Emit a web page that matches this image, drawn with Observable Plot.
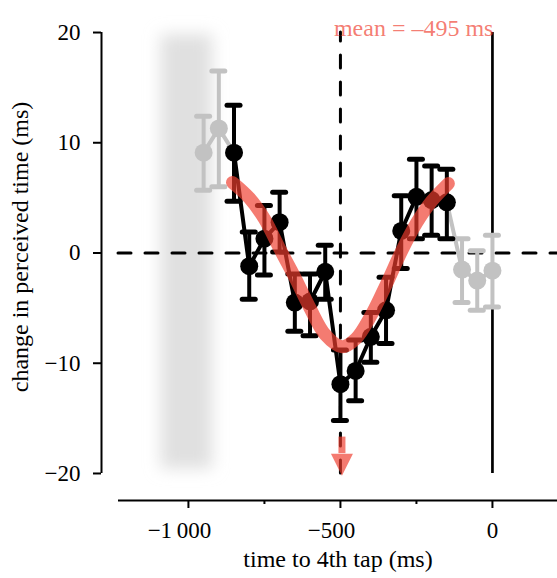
<!DOCTYPE html>
<html><head><meta charset="utf-8">
<script src="https://cdn.jsdelivr.net/npm/d3@7"></script>
<script src="https://cdn.jsdelivr.net/npm/@observablehq/plot@0.6"></script>
<style>body{margin:0;background:#fff} svg{display:block}</style>
</head><body><div id="chart"></div>
<script>
// ---- data ----
const times   = [-950, -900, -850, -800, -750, -700, -650, -600, -550, -500, -450, -400, -350, -300, -250, -200, -150, -100, -50, 0];
const change  = [9.1, 11.3, 9.1, -1.2, 1.3, 2.8, -4.5, -4.4, -1.7, -11.9, -10.7, -7.6, -5.2, 2.0, 5.1, 4.8, 4.6, -1.5, -2.5, -1.6];
const errLow  = [5.7, 6.0, 4.7, -4.2, -2.0, 0.1, -7.1, -7.5, -4.2, -15.2, -13.4, -9.9, -8.2, -1.4, 1.3, 1.6, 1.3, -4.5, -5.2, -4.9];
const errHigh = [12.4, 16.5, 13.4, 1.9, 4.3, 5.5, -1.9, -1.9, 0.7, -8.8, -7.9, -5.4, -2.2, 5.2, 8.5, 7.9, 7.6, 1.3, 0.2, 1.6];
const mainFirst = 2, mainLast = 16;   // indices of the black (fitted) series

const fitTimes  = [-855, -800, -750, -700, -650, -600, -550, -495, -450, -400, -350, -300, -250, -200, -145];
const fitChange = [6.4, 5.0, 3.1, 0.4, -2.2, -5.0, -7.4, -8.5, -7.8, -5.7, -2.9, 0.1, 2.7, 4.7, 6.3];

const meanTime = -495;
const refTime = -500;
const tapTime = 0;
const bandTimes = [-1090, -920];
const bandChange = [-19.6, 19.8];
const arrowChange = [-16.7, -18.2];

const xTicks = [-1000, -500, 0];
const xTickLabels = ["\u22121\u2009000", "\u2212500", "0"];
const xMinorTicks = [-750, -250];
const yTicks = [-20, -10, 0, 10, 20];
const yTickLabels = ["\u221220", "\u221210", "0", "10", "20"];
const xLabel = "time to 4th tap (ms)";
const yLabel = "change in perceived time (ms)";
const meanLabel = "mean = \u2013495 ms";

const xDomain = [-1230, 214];
const yDomain = [-21, 21];

// ---- build ----
const red = "rgb(239,60,45)", redOp = 0.68, grey = "#c2c2c2";
const data = times.map((t, i) => ({t, v: change[i], lo: errLow[i], hi: errHigh[i]}));
const main = data.slice(mainFirst, mainLast + 1);
const greyL = data.slice(0, mainFirst + 1);
const greyR = data.slice(mainLast);
const greyPts = [...data.slice(0, mainFirst), ...data.slice(mainLast + 1)];
const fit = fitTimes.map((t, i) => ({t, v: fitChange[i]}));
const triangle = {draw(ctx) { ctx.moveTo(-11, 0); ctx.lineTo(11, 0); ctx.lineTo(0, 22); ctx.closePath(); }};
const xNeg = xTicks.filter(d => d < 0), xNonNeg = xTicks.filter(d => d >= 0);
const xLab = d => xTickLabels[xTicks.indexOf(d)];

function series(pts, lines, color) {
  return [
    ...lines.map(l => Plot.line(l, {x: "t", y: "v", stroke: color, strokeWidth: 4})),
    Plot.ruleX(pts, {x: "t", y1: "lo", y2: "hi", stroke: color, strokeWidth: 4}),
    Plot.ruleY(pts, {y: "hi", x1: "t", x2: "t", insetLeft: -6.5, insetRight: -6.5, stroke: color, strokeWidth: 5, strokeLinecap: "round"}),
    Plot.ruleY(pts, {y: "lo", x1: "t", x2: "t", insetLeft: -6.5, insetRight: -6.5, stroke: color, strokeWidth: 5, strokeLinecap: "round"}),
    Plot.dot(pts, {x: "t", y: "v", r: 9, fill: color, stroke: "none"})
  ];
}

const font = "'Liberation Serif', 'Times New Roman', serif";
const chart = Plot.plot({
  width: 557, height: 578,
  marginLeft: 118, marginRight: 0, marginTop: 21, marginBottom: 94,
  style: {fontFamily: font, fontSize: "23px", color: "black", background: "white"},
  x: {domain: xDomain},
  y: {domain: yDomain},
  marks: [
    Plot.rect([0], {x1: [bandTimes[0]], x2: [bandTimes[1]], y1: [bandChange[0]], y2: [bandChange[1]], fill: "#e0e0e0", ariaLabel: "band"}),
    Plot.ruleY([0], {stroke: "black", strokeWidth: 3, strokeDasharray: "13,14", strokeLinecap: "round"}),
    Plot.ruleX([refTime], {y1: -20, y2: 20, stroke: "black", strokeWidth: 3, strokeDasharray: "13,14", strokeLinecap: "round"}),
    Plot.ruleX([tapTime], {y1: -20, y2: 20, stroke: "black", strokeWidth: 2.7}),
    ...series(greyPts, [greyL, greyR], grey),
    ...series(main, [main], "black"),
    Plot.line(fit, {x: "t", y: "v", curve: "catmull-rom", stroke: red, strokeOpacity: redOp, strokeWidth: 13, strokeLinecap: "round"}),
    Plot.ruleX([meanTime], {y1: [arrowChange[0]], y2: [arrowChange[1]], stroke: red, strokeOpacity: redOp, strokeWidth: 7}),
    Plot.dot([meanTime], {x: d => d, y: [arrowChange[1]], symbol: triangle, fill: red, fillOpacity: redOp, stroke: "none"}),
    Plot.text([meanLabel], {x: [tapTime], frameAnchor: "top", textAnchor: "end", dx: 1, dy: -3, fill: red, fillOpacity: redOp, fontSize: 24}),
    // axes
    Plot.ruleX([xDomain[0]], {y1: -20, y2: 20, dx: -17, stroke: "black", strokeWidth: 2}),
    Plot.axisY({ticks: yTicks, tickFormat: d => yTickLabels[yTicks.indexOf(d)], tickSize: 8, tickPadding: 13, dx: -17, label: null, strokeWidth: 2, fontSize: 23}),
    Plot.ruleY([yDomain[0]], {dy: 16, stroke: "black", strokeWidth: 2}),
    Plot.axisX({ticks: xTicks, tickFormat: () => "", tickSize: 8, dy: 16, label: null, strokeWidth: 2}),
    Plot.axisX({ticks: xMinorTicks, tickFormat: () => "", tickSize: 4, dy: 16, label: null, strokeWidth: 2}),
    Plot.text(xNeg, {x: d => d, text: xLab, frameAnchor: "bottom", lineAnchor: "top", dy: 37, dx: -9, fontSize: 23}),
    Plot.text(xNonNeg, {x: d => d, text: xLab, frameAnchor: "bottom", lineAnchor: "top", dy: 37, fontSize: 23}),
    Plot.text([xLabel], {frameAnchor: "bottom", dy: 82, fontSize: 24}),
    Plot.text([yLabel], {frameAnchor: "left", textAnchor: "middle", rotate: -90, dx: -98, dy: -6, fontSize: 24})
  ]
});
// soft edges for the shaded band (SVG gaussian blur filter)
const ns = "http://www.w3.org/2000/svg";
const defs = document.createElementNS(ns, "defs");
const filter = document.createElementNS(ns, "filter");
filter.setAttribute("id", "bandBlur");
filter.setAttribute("x", "-100%"); filter.setAttribute("y", "-20%");
filter.setAttribute("width", "300%"); filter.setAttribute("height", "140%");
const blur = document.createElementNS(ns, "feGaussianBlur");
blur.setAttribute("stdDeviation", "8");
filter.appendChild(blur); defs.appendChild(filter);
chart.insertBefore(defs, chart.firstChild);
const band = chart.querySelector('g[aria-label="band"]') || chart.querySelector('g[aria-label="rect"]');
if (band) band.setAttribute("filter", "url(#bandBlur)");
document.getElementById("chart").appendChild(chart);
</script>
</body></html>
